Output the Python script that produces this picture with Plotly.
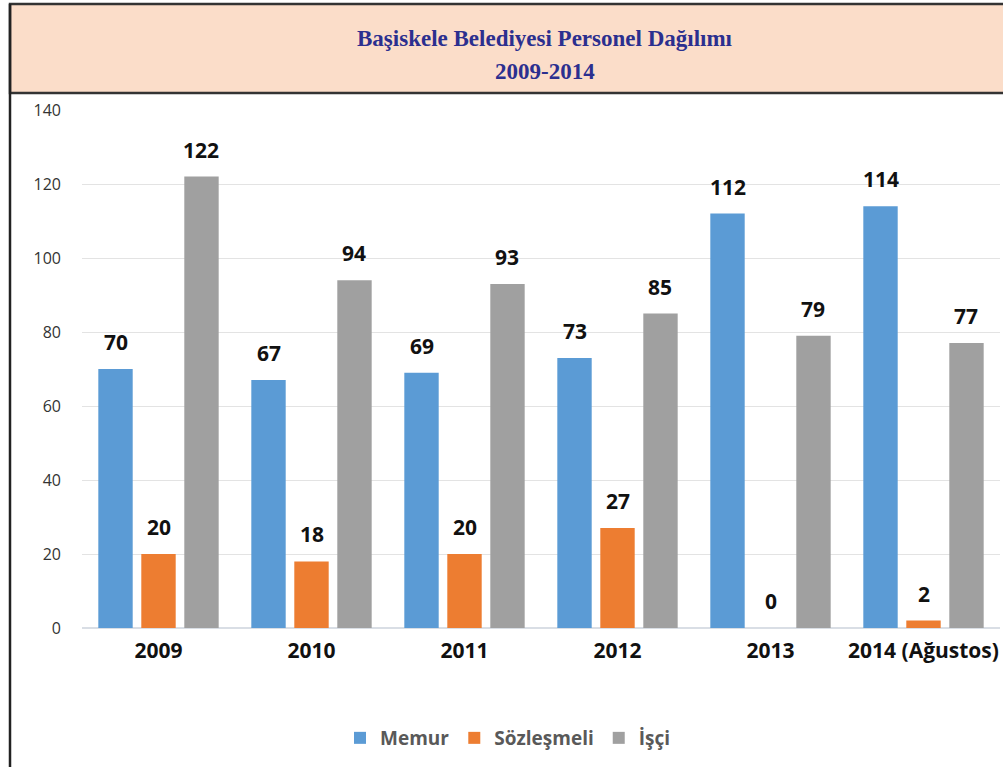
import plotly.graph_objects as go

categories = ["2009", "2010", "2011", "2012", "2013", "2014 (Ağustos)"]
memur = [70, 67, 69, 73, 112, 114]
sozlesmeli = [20, 18, 20, 27, 0, 2]
isci = [122, 94, 93, 85, 79, 77]
series_names = ["Memur", "Sözleşmeli", "İşçi"]
series_colors = ["#5B9BD5", "#ED7D31", "#A0A0A0"]
y_ticks = [0, 20, 40, 60, 80, 100, 120, 140]
title_lines = ["Başiskele Belediyesi Personel Dağılımı", "2009-2014"]

W, H = 1003, 767
ML, MR, MT, MB = 82, 3, 110, 139
PW = W - ML - MR
PH = H - MT - MB
BAR_SLOT = PW / len(categories) * (1 - 0.157) / 3  # px per bar slot in a group
LABEL_FONT = dict(family="Open Sans", size=21, color="#111111", weight="bold")

def px(x):
    return (x - ML) / PW

def py(y):
    return (H - MB - y) / PH

fig = go.Figure()
series = [memur, sozlesmeli, isci]
for name, vals, col in zip(series_names, series, series_colors):
    fig.add_trace(go.Bar(
        name=name, x=categories, y=vals,
        marker=dict(color=col, line=dict(width=0)),
        hoverinfo="skip",
    ))

annotations = []
for si, vals in enumerate(series):
    for ci, v in enumerate(vals):
        annotations.append(dict(
            x=ci, y=v, xref="x", yref="y", text=str(v), showarrow=False,
            xshift=(si - 1) * BAR_SLOT, yshift=11, yanchor="bottom",
            font=LABEL_FONT,
        ))

for i, line in enumerate(title_lines):
    annotations.append(dict(
        text=line, xref="paper", yref="paper", x=px(545), y=py(38 + 34 * i),
        xanchor="center", yanchor="middle", showarrow=False,
        font=dict(family="Liberation Serif", size=23, color="#2B2F8F", weight="bold"),
    ))

shapes = [
    dict(type="rect", xref="paper", yref="paper", x0=px(10), x1=px(W + 5), y0=py(93), y1=py(4),
         fillcolor="#FBDDC9", line=dict(color="#333333", width=2.5), layer="below"),
    dict(type="line", xref="paper", yref="paper", x0=px(10), x1=px(10), y0=py(H + 5), y1=py(4),
         line=dict(color="#222222", width=2.5)),
]

fig.update_layout(
    width=W, height=H,
    margin=dict(l=ML, r=MR, t=MT, b=MB),
    paper_bgcolor="white", plot_bgcolor="white",
    barmode="group", bargap=0.157, bargroupgap=0.2,
    shapes=shapes,
    annotations=annotations,
    xaxis=dict(
        type="category", range=[-0.5, len(categories) - 0.5],
        tickfont=dict(family="Open Sans", size=21, color="#111111", weight="bold"),
        showgrid=False, showline=False, ticks="", ticklabelstandoff=8,
    ),
    yaxis=dict(
        range=[0, 140], tickvals=y_ticks, showgrid=True, gridcolor="#E3E3E3", gridwidth=1.2,
        zeroline=True, zerolinecolor="#D9DEE5", zerolinewidth=1.5,
        tickfont=dict(family="Open Sans", size=16, color="#333333"),
        ticks="", ticklabelstandoff=20, showline=False,
    ),
    legend=dict(
        orientation="h", x=px(508), xanchor="center", y=py(738), yanchor="middle",
        font=dict(family="Open Sans", size=19, color="#595959", weight="bold"),
        itemwidth=30, traceorder="normal",
    ),
    showlegend=True,
)

fig.write_html("out.html", config={"displayModeBar": False},
               post_script="document.body.style.margin='0';")
